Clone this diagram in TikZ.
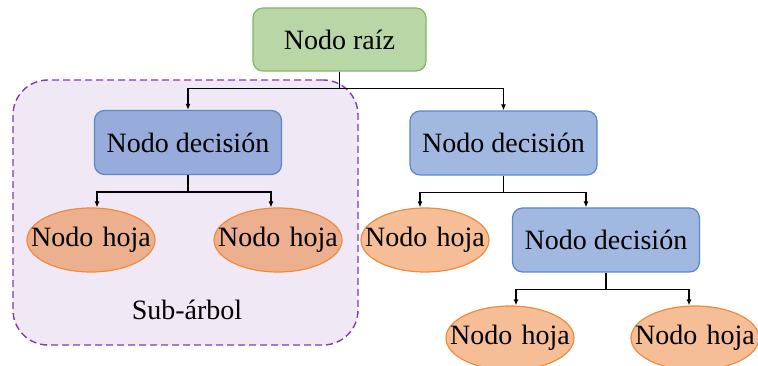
\documentclass[tikz,border=0pt]{standalone}
\usepackage{fontspec}
\setmainfont{Liberation Serif}
\usetikzlibrary{shapes.geometric,arrows.meta}
\definecolor{rootfill}{HTML}{B9D7A6}
\definecolor{rootdraw}{HTML}{82B366}
\definecolor{decfill}{HTML}{A1B9E1}
\definecolor{decfillin}{HTML}{98ACDC}
\definecolor{decdraw}{HTML}{5A86CC}
\definecolor{leaffill}{HTML}{F6BE96}
\definecolor{leaffillin}{HTML}{EDB08F}
\definecolor{leafdraw}{HTML}{F08A3C}
\definecolor{subfill}{HTML}{F0E8F5}
\definecolor{subdraw}{HTML}{7E3DB5}
\tikzset{
  txt/.style={font=\fontsize{28}{32}\selectfont, text=black},
  rootbox/.style={txt, draw=rootdraw, fill=rootfill, line width=1.2pt, rounded corners=10pt, minimum width=173pt, minimum height=63pt, inner sep=0pt},
  decbox/.style={txt, draw=decdraw, fill=decfill, line width=1.2pt, rounded corners=10pt, minimum width=187pt, minimum height=64pt, inner sep=0pt},
  leaf/.style={txt, ellipse, draw=leafdraw, fill=leaffill, line width=1.2pt, text width=90pt, align=center, minimum width=128pt, minimum height=64pt, inner sep=0pt},
  subbox/.style={draw=subdraw, fill=subfill, line width=1.4pt, dash pattern=on 7pt off 4pt, rounded corners=35pt, minimum width=345pt, minimum height=265pt, inner sep=0pt},
  conn/.style={line width=1.3pt, -{Latex[length=6pt,width=5pt]}},
}
\begin{document}
\begin{tikzpicture}[x=1pt,y=-1pt]
\useasboundingbox (0,0) rectangle (758,366);
\clip (0,0) rectangle (758,366);
\node[subbox] (sub) at (185.5,212.5) {};
\node[txt] (sublabel) at (187,310) {Sub-árbol};
\node[rootbox] (root) at (339.5,39.5) {Nodo raíz};
\node[decbox, fill=decfillin] (d1) at (188,142.5) {Nodo decisión};
\node[decbox] (d2) at (503.5,143) {Nodo decisión};
\node[leaf, fill=leaffillin] (l1) at (91,240) {\makebox[0pt]{Nodo hoja}};
\node[leaf, fill=leaffillin] (l2) at (278,240) {\makebox[0pt]{Nodo hoja}};
\node[leaf] (l3) at (425,240) {\makebox[0pt]{Nodo hoja}};
\node[decbox] (d3) at (606,240) {Nodo decisión};
\node[leaf] (l4) at (510,338) {\makebox[0pt]{Nodo hoja}};
\node[leaf] (l5) at (695,338) {\makebox[0pt]{Nodo hoja}};
\draw[conn] (root.south) -- ++(0,17) -| (d1);
\draw[conn] (root.south) -- ++(0,17) -| (d2);
\draw[conn] (d1.south) -- ++(0,17) -| ([xshift=6pt]l1.north);
\draw[conn] (d1.south) -- ++(0,17) -| ([xshift=-7pt]l2.north);
\draw[conn] (d2.south) -- ++(0,17) -| ([xshift=-5pt]l3.north);
\draw[conn] (d2.south) -- ++(0,17) -| ([xshift=-20pt]d3.north);
\draw[conn] (d3.south) -- ++(0,17) -| ([xshift=6pt]l4.north);
\draw[conn] (d3.south) -- ++(0,17) -| ([xshift=-6pt]l5.north);
\end{tikzpicture}
\end{document}
